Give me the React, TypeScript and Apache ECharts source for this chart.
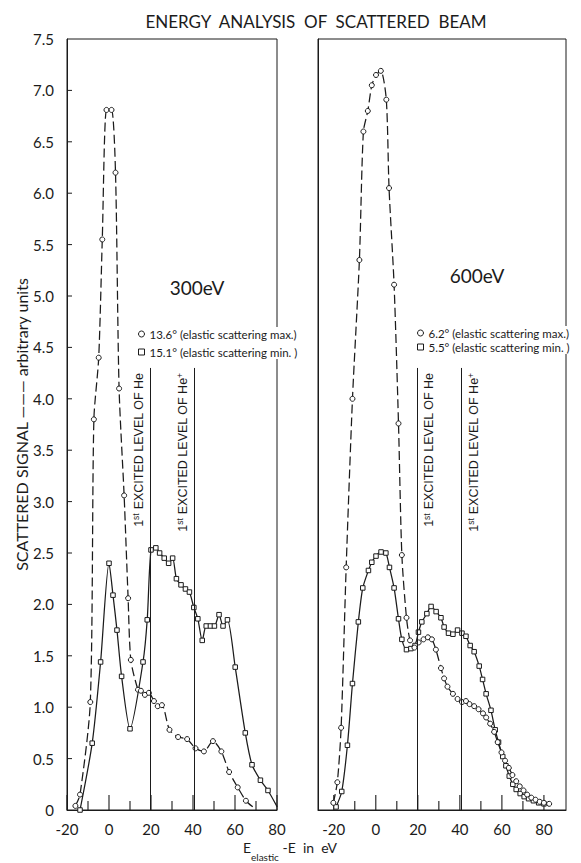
import React, { useEffect, useRef } from "react";
import * as echarts from "echarts";

// ---------- text ----------
const TITLE = "ENERGY  ANALYSIS  OF  SCATTERED  BEAM";
const Y_NAME = "SCATTERED SIGNAL ——— arbitrary units";
const LEFT_PANEL_LABEL = "300eV";
const RIGHT_PANEL_LABEL = "600eV";

const leftMaxName = "13.6° (elastic scattering max.)";
const leftMinName = "15.1° (elastic scattering min. )";
const rightMaxName = "6.2° (elastic scattering max.)";
const rightMinName = "5.5° (elastic scattering min. )";

// excitation levels (eV)
const HE_LEVEL = 19.8;
const HE_PLUS_LEVEL = 40.8;
const LEVEL_LINE_TOP = 4.3;

// ---------- axes ----------
const leftXRange = [-20, 80];
const rightXRange = [-27.5, 90.5];
const yRange = [0, 7.5];
const xMajorTicks = [-20, 0, 20, 40, 60, 80];
const xMinorTicks = [-10, 10, 30, 50, 70];
const yTicks = [0.5, 1, 1.5, 2, 2.5, 3, 3.5, 4, 4.5, 5, 5.5, 6, 6.5, 7];

// ---------- data: 300 eV ----------
const leftMaxE = [-16.0, -13.8, -8.9, -7.2, -4.9, -3.2, -1.2, 1.2, 3.1, 4.8, 7.2, 9.1, 10.4, 13.8, 15.2, 17.1, 19.0, 21.4, 23.2, 25.2, 28.8, 32.9, 37.2, 41.2, 45.2, 49.5, 53.5, 57.2, 61.3, 65.2, 68.5];
const leftMaxSignal = [0.04, 0.15, 1.05, 3.8, 4.4, 5.55, 6.81, 6.81, 6.2, 4.1, 3.06, 2.06, 1.46, 1.17, 1.16, 1.12, 1.14, 1.06, 1.01, 1.02, 0.78, 0.71, 0.69, 0.6, 0.57, 0.67, 0.57, 0.37, 0.22, 0.09, 0.03];

const leftMinE = [-13.8, -8.0, -4.0, 0, 1.9, 3.8, 6.0, 10.0, 16.2, 18.2, 20.0, 22.3, 24.1, 26.3, 28.4, 30.3, 32.1, 34.3, 36.4, 38.3, 40.4, 42.3, 44.4, 46.3, 48.3, 50.2, 52.4, 54.3, 56.4, 60.1, 64.9, 68.1, 72.1, 75.7, 80.1];
const leftMinSignal = [0.0, 0.65, 1.44, 2.4, 2.09, 1.75, 1.3, 0.79, 1.44, 1.85, 2.53, 2.55, 2.5, 2.45, 2.4, 2.45, 2.25, 2.19, 2.15, 2.12, 1.97, 1.86, 1.65, 1.79, 1.79, 1.79, 1.9, 1.79, 1.85, 1.39, 0.75, 0.44, 0.29, 0.19, 0.03];

// ---------- data: 600 eV ----------
const rightMaxE = [-20.2, -18.3, -16.5, -14.1, -11.1, -7.8, -5.9, -3.8, -1.9, 0.1, 2.4, 5.0, 6.3, 8.7, 10.8, 12.4, 14.6, 16.3, 18.4, 20.4, 22.7, 24.8, 26.7, 28.6, 31.0, 32.5, 34.1, 36.7, 38.9, 41.0, 42.9, 44.6, 46.8, 48.9, 51.0, 52.5, 54.4, 56.3, 58.0, 59.8, 61.5, 63.3, 65.0, 66.8, 68.5, 70.3, 72.0, 74.0, 76.0, 78.0, 80.0, 82.5];
const rightMaxSignal = [0.07, 0.27, 0.8, 2.36, 4.0, 5.35, 6.6, 6.8, 7.05, 7.15, 7.19, 6.91, 6.05, 5.11, 3.76, 2.48, 1.87, 1.65, 1.58, 1.63, 1.66, 1.68, 1.66, 1.56, 1.38, 1.28, 1.2, 1.13, 1.08, 1.05, 1.06, 1.03, 1.01, 0.98, 0.94, 0.9, 0.84, 0.76, 0.66, 0.56, 0.48, 0.41, 0.34, 0.28, 0.23, 0.19, 0.15, 0.12, 0.1, 0.08, 0.07, 0.06];

const rightMinE = [-18.9, -16.2, -13.5, -11.1, -8.3, -6.2, -3.5, -1.9, 0.1, 2.5, 4.8, 6.5, 8.7, 10.8, 12.4, 14.6, 16.7, 18.7, 20.3, 21.9, 24.3, 26.3, 28.7, 31.0, 32.5, 34.6, 36.7, 38.9, 41.0, 42.9, 44.9, 46.8, 49.2, 50.8, 52.5, 54.8, 56.8, 58.4, 60.4, 61.9, 63.5, 65.2, 66.8, 68.7, 70.6, 72.7, 75.0, 77.5, 80.0];
const rightMinSignal = [0.03, 0.18, 0.63, 1.23, 1.83, 2.16, 2.33, 2.41, 2.47, 2.51, 2.5, 2.36, 2.16, 1.86, 1.66, 1.56, 1.57, 1.6, 1.73, 1.83, 1.91, 1.98, 1.93, 1.87, 1.78, 1.72, 1.71, 1.75, 1.72, 1.69, 1.6, 1.54, 1.4, 1.27, 1.13, 0.97, 0.78, 0.66, 0.52, 0.43, 0.33, 0.25, 0.2, 0.16, 0.13, 0.11, 0.09, 0.07, 0.06];

// ---------- style ----------
const INK = "#1b1b1b";
const FONT = "Lato, 'Liberation Sans', sans-serif";
const SANS = "'Liberation Sans', Arial, sans-serif";

function pairs(xs: number[], ys: number[], lastBare = false) {
  return xs.map((x, i) => {
    if (lastBare && i === xs.length - 1) {
      return { value: [x, ys[i]], symbol: "none" };
    }
    return [x, ys[i]];
  });
}

function levelMarks(side: "insideEndTop" | "insideEndBottom") {
  return {
    silent: true,
    symbol: "none",
    animation: false,
    lineStyle: { color: INK, width: 1, type: "solid" },
    label: {
      show: true,
      position: side,
      distance: 5,
      color: INK,
      fontFamily: SANS,
      fontSize: 12.5,
      formatter: (p: any) =>
        p.name === "He+" ? "1{sup|st} EXCITED LEVEL OF He{sup|+}" : "1{sup|st} EXCITED LEVEL OF He",
      rich: {
        sup: { fontSize: 8.5, fontFamily: SANS, color: INK, verticalAlign: "top", padding: [0, 0, 5, 0] },
      },
    },
    data: [
      [{ name: "He", coord: [HE_LEVEL, 0] }, { coord: [HE_LEVEL, LEVEL_LINE_TOP] }],
      [{ name: "He+", coord: [HE_PLUS_LEVEL, 0] }, { coord: [HE_PLUS_LEVEL, LEVEL_LINE_TOP] }],
    ],
  };
}

function lineSeries(name: string, xs: number[], ys: number[], dashed: boolean, axis: number, extra: any = {}) {
  return {
    type: "line",
    name,
    xAxisIndex: axis,
    yAxisIndex: axis,
    data: pairs(xs, ys, dashed && axis === 0),
    smooth: 0.25,
    showAllSymbol: true,
    symbol: dashed ? "circle" : "rect",
    symbolSize: dashed ? 5 : 4.5,
    lineStyle: { color: INK, width: 1.25, type: dashed ? [9, 4] : "solid" },
    itemStyle: { color: "#fff", borderColor: INK, borderWidth: 1 },
    emphasis: { disabled: true },
    z: 3,
    ...extra,
  };
}

// tick marks drawn inside the frame, positioned by the axes' own scales
function xTickSeries(axis: number) {
  const data = [
    ...xMajorTicks.map((v) => [v, 15]),
    ...xMinorTicks.map((v) => [v, 9]),
  ];
  return {
    type: "custom",
    xAxisIndex: axis,
    yAxisIndex: axis,
    silent: true,
    z: 1,
    data,
    renderItem: (_p: any, api: any) => {
      const pt = api.coord([api.value(0), 0]);
      const len = api.value(1);
      return {
        type: "line",
        shape: { x1: pt[0], y1: pt[1], x2: pt[0], y2: pt[1] - len },
        style: { stroke: INK, lineWidth: 1.1 },
      };
    },
    encode: { x: 0, y: -1 },
  };
}

function yTickSeries() {
  return {
    type: "custom",
    xAxisIndex: 0,
    yAxisIndex: 0,
    silent: true,
    z: 1,
    data: yTicks.map((v) => [leftXRange[0], v]),
    renderItem: (_p: any, api: any) => {
      const pt = api.coord([api.value(0), api.value(1)]);
      return {
        type: "line",
        shape: { x1: pt[0], y1: pt[1], x2: pt[0] + 5, y2: pt[1] },
        style: { stroke: INK, lineWidth: 1 },
      };
    },
  };
}

function xAxis(grid: number, range: number[], showEnds: boolean) {
  return {
    type: "value",
    gridIndex: grid,
    min: range[0],
    max: range[1],
    splitNumber: 5,
    splitLine: { show: false },
    axisLine: { show: true, onZero: false, lineStyle: { color: INK, width: 1 } },
    axisTick: { show: false },
    axisLabel: {
      show: true,
      margin: 11,
      fontSize: 15,
      color: INK,
      fontFamily: FONT,
      showMinLabel: showEnds,
      showMaxLabel: showEnds,
    },
  };
}

export default function App() {
  const ref = useRef<HTMLDivElement>(null);

  useEffect(() => {
    if (!ref.current) return;
    const chart = echarts.init(ref.current, undefined, { renderer: "svg" });

    const legendCommon = {
      orient: "vertical",
      itemWidth: 6,
      itemHeight: 6,
      padding: [1, 2],
      backgroundColor: "#fff",
      selectedMode: false,
      itemStyle: { color: "#fff", borderColor: INK, borderWidth: 1 },
      textStyle: { fontSize: 11.5, color: INK, fontFamily: FONT },
    };

    chart.setOption({
      animation: false,
      grid: [
        { left: 67, top: 39, width: 210, height: 771, show: true, borderColor: INK, borderWidth: 1 },
        { left: 318, top: 39, width: 248, height: 771, show: true, borderColor: INK, borderWidth: 1 },
      ],
      xAxis: [xAxis(0, leftXRange, true), xAxis(1, rightXRange, false)],
      yAxis: [
        {
          type: "value",
          gridIndex: 0,
          min: yRange[0],
          max: yRange[1],
          interval: 0.5,
          name: Y_NAME,
          nameLocation: "middle",
          nameGap: 30,
          nameRotate: 90,
          nameTextStyle: { fontSize: 16, color: INK, fontFamily: FONT },
          axisLine: { show: true, onZero: false, lineStyle: { color: INK } },
          axisTick: { show: false },
          axisLabel: {
            fontSize: 15,
            margin: 13,
            color: INK,
            fontFamily: FONT,
            formatter: (v: number) => (v === 0 ? "0" : v.toFixed(1)),
          },
          splitLine: { show: false },
        },
        {
          type: "value",
          gridIndex: 1,
          min: yRange[0],
          max: yRange[1],
          interval: 0.5,
          axisLine: { show: true, onZero: false, lineStyle: { color: INK } },
          axisTick: { show: false },
          axisLabel: { show: false },
          splitLine: { show: false },
        },
      ],
      legend: [
        {
          ...legendCommon,
          left: 136,
          top: 327,
          itemGap: 6,
          data: [
            { name: leftMaxName, icon: "circle" },
            { name: leftMinName, icon: "rect" },
          ],
        },
        {
          ...legendCommon,
          left: 415,
          top: 326,
          itemGap: 2,
          data: [
            { name: rightMaxName, icon: "circle" },
            { name: rightMinName, icon: "rect" },
          ],
        },
      ],
      series: [
        xTickSeries(0),
        xTickSeries(1),
        yTickSeries(),
        lineSeries(leftMinName, leftMinE, leftMinSignal, false, 0, { markLine: levelMarks("insideEndTop") }),
        lineSeries(leftMaxName, leftMaxE, leftMaxSignal, true, 0),
        lineSeries(rightMinName, rightMinE, rightMinSignal, false, 1, { markLine: levelMarks("insideEndBottom") }),
        lineSeries(rightMaxName, rightMaxE, rightMaxSignal, true, 1),
      ],
      graphic: [
        {
          type: "text",
          x: 316,
          y: 21,
          style: { text: TITLE, fontSize: 17, fontFamily: FONT, fill: INK, align: "center", verticalAlign: "middle" },
        },
        {
          type: "text",
          x: 197,
          y: 287,
          style: { text: LEFT_PANEL_LABEL, fontSize: 19, fontFamily: FONT, fill: INK, align: "center", verticalAlign: "middle" },
        },
        {
          type: "text",
          x: 477,
          y: 275,
          style: { text: RIGHT_PANEL_LABEL, fontSize: 19, fontFamily: FONT, fill: INK, align: "center", verticalAlign: "middle" },
        },
        {
          type: "text",
          x: 290,
          y: 851,
          style: {
            text: "{e|E}{s|elastic}{e| -E  in  eV}",
            align: "center",
            verticalAlign: "middle",
            fill: INK,
            rich: {
              e: { fontSize: 14, fontFamily: FONT, fill: INK, lineHeight: 22, verticalAlign: "top" },
              s: { fontSize: 10, fontFamily: FONT, fill: INK, lineHeight: 22, verticalAlign: "bottom", padding: [8, 0, 0, 0] },
            },
          },
        },
      ],
    });

    return () => chart.dispose();
  }, []);

  return (
    <div
      ref={ref}
      style={{ position: "absolute", left: 0, top: 0, width: 581, height: 863, background: "#fff" }}
    />
  );
}
